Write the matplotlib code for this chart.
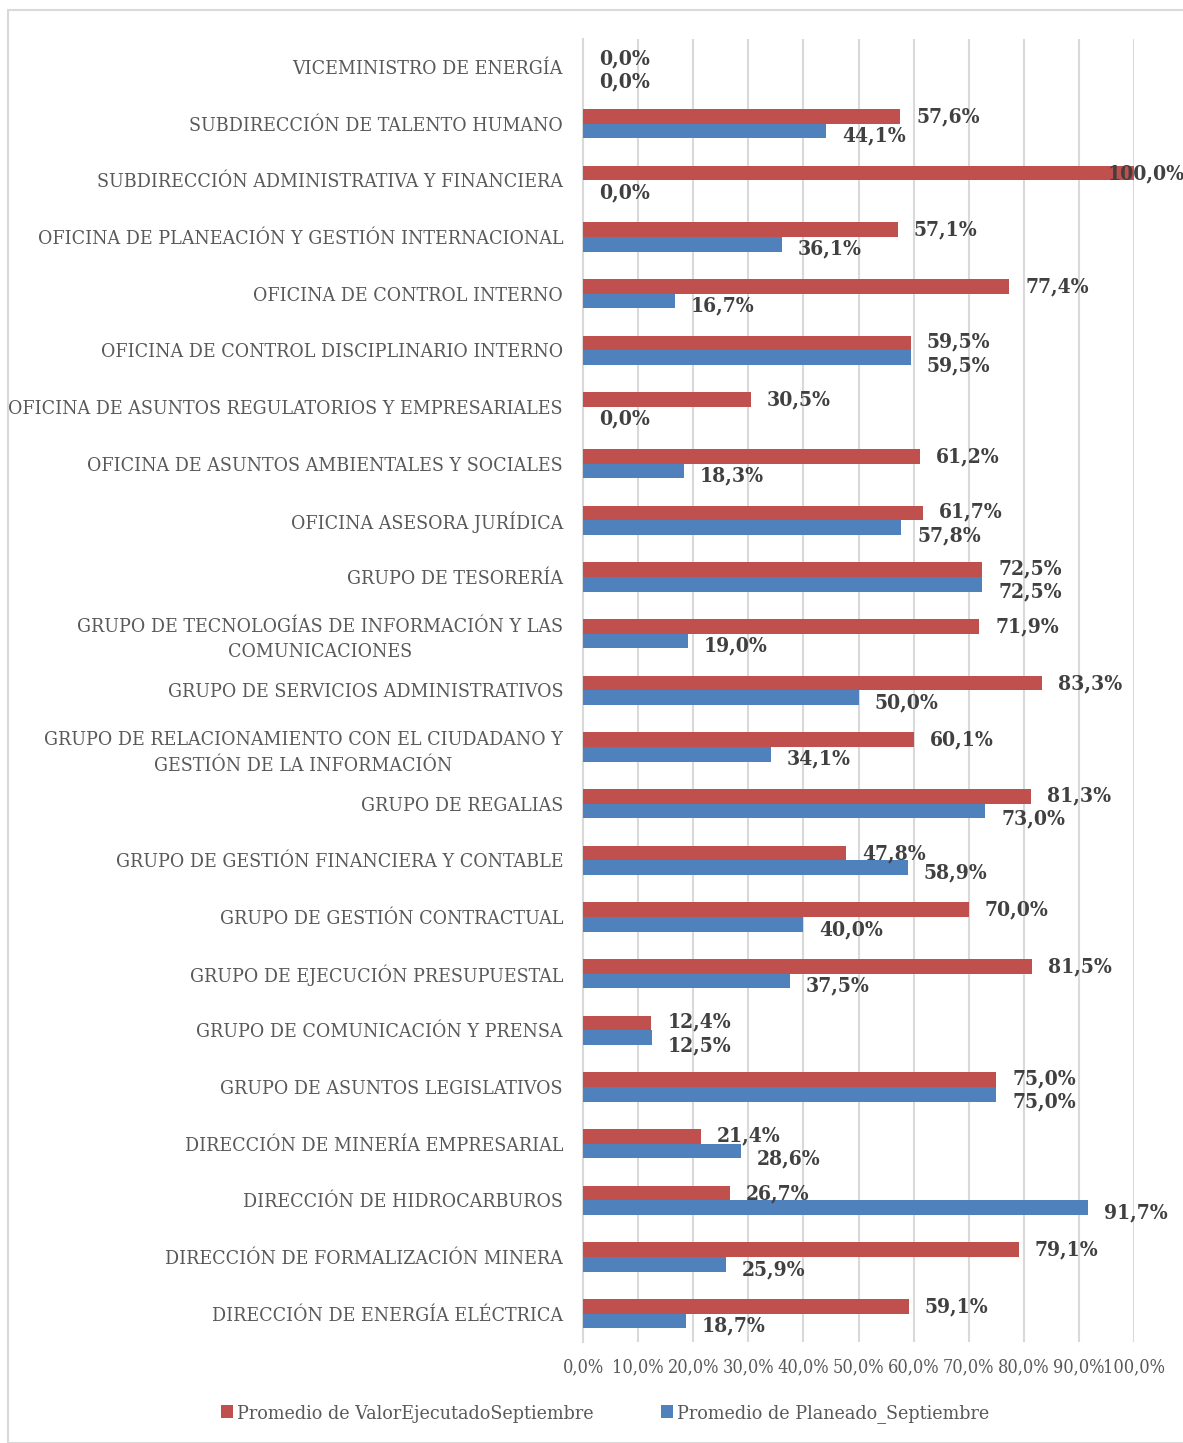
import matplotlib
matplotlib.use("Agg")
import matplotlib.pyplot as plt
from matplotlib.patches import Rectangle
import numpy as np

categories = [
    "VICEMINISTRO DE ENERGÍA",
    "SUBDIRECCIÓN DE TALENTO HUMANO",
    "SUBDIRECCIÓN ADMINISTRATIVA Y FINANCIERA",
    "OFICINA DE PLANEACIÓN Y GESTIÓN INTERNACIONAL",
    "OFICINA DE CONTROL INTERNO",
    "OFICINA DE CONTROL DISCIPLINARIO INTERNO",
    "OFICINA DE ASUNTOS REGULATORIOS Y EMPRESARIALES",
    "OFICINA DE ASUNTOS AMBIENTALES Y SOCIALES",
    "OFICINA ASESORA JURÍDICA",
    "GRUPO DE TESORERÍA",
    "GRUPO DE TECNOLOGÍAS DE INFORMACIÓN Y LAS\nCOMUNICACIONES",
    "GRUPO DE SERVICIOS ADMINISTRATIVOS",
    "GRUPO DE RELACIONAMIENTO CON EL CIUDADANO Y\nGESTIÓN DE LA INFORMACIÓN",
    "GRUPO DE REGALIAS",
    "GRUPO DE GESTIÓN FINANCIERA Y CONTABLE",
    "GRUPO DE GESTIÓN CONTRACTUAL",
    "GRUPO DE EJECUCIÓN PRESUPUESTAL",
    "GRUPO DE COMUNICACIÓN Y PRENSA",
    "GRUPO DE ASUNTOS LEGISLATIVOS",
    "DIRECCIÓN DE MINERÍA EMPRESARIAL",
    "DIRECCIÓN DE HIDROCARBUROS",
    "DIRECCIÓN DE FORMALIZACIÓN MINERA",
    "DIRECCIÓN DE ENERGÍA ELÉCTRICA",
]
ejecutado = [0.0, 57.6, 100.0, 57.1, 77.4, 59.5, 30.5, 61.2, 61.7, 72.5, 71.9, 83.3,
             60.1, 81.3, 47.8, 70.0, 81.5, 12.4, 75.0, 21.4, 26.7, 79.1, 59.1]
planeado = [0.0, 44.1, 0.0, 36.1, 16.7, 59.5, 0.0, 18.3, 57.8, 72.5, 19.0, 50.0,
            34.1, 73.0, 58.9, 40.0, 37.5, 12.5, 75.0, 28.6, 91.7, 25.9, 18.7]
series_names = ["Promedio de ValorEjecutadoSeptiembre", "Promedio de Planeado_Septiembre"]
xticks = [0, 10, 20, 30, 40, 50, 60, 70, 80, 90, 100]
xtick_labels = ["0,0%", "10,0%", "20,0%", "30,0%", "40,0%", "50,0%", "60,0%",
                "70,0%", "80,0%", "90,0%", "100,0%"]

RED = "#C0504D"
BLUE = "#4F81BD"
TXT = "#595959"
LBL = "#404040"
SERIF = ["DejaVu Serif"]

W, H = 1183, 1443
fig = plt.figure(figsize=(W / 100, H / 100), dpi=100)
fig.patches.append(Rectangle((8 / W, 0), 1.2, 1 - 10 / H, transform=fig.transFigure,
                             fill=False, edgecolor="#D9D9D9", lw=1.5))

ax = fig.add_axes([583 / W, 1 - 1342 / H, (1134 - 583) / W, (1342 - 38.6) / H])
n = len(categories)
y = np.arange(n)
bh = 0.26
ax.barh(y - bh / 2, ejecutado, height=bh, color=RED, label=series_names[0], zorder=3)
ax.barh(y + bh / 2, planeado, height=bh, color=BLUE, label=series_names[1], zorder=3)
ax.set_ylim(n - 0.5, -0.5)
ax.set_xlim(0, 100)

for i in range(n):
    e, p = ejecutado[i], planeado[i]
    close = abs(e - p) < 10
    ye = i - bh / 2 - (0.02 if close else 0.0)
    yp = i + bh / 2 + (0.13 if close else 0.08)
    for v, yy in ((e, ye), (p, yp)):
        xx = min(v + 2.9, 95.3)
        ax.text(xx, yy, f"{v:.1f}%".replace(".", ","), ha="left", va="center",
                fontsize=15, fontweight="bold", color=LBL, family=SERIF,
                fontstretch="condensed", zorder=5, clip_on=False)

ax.set_yticks(y)
ax.set_yticklabels(categories, fontsize=14, color=TXT, family=SERIF, fontstretch="condensed",
                   ha="right", multialignment="center")
for t in ax.get_yticklabels():
    t.set_linespacing(1.55)
ax.tick_params(axis="y", length=0, pad=14.4)
ax.set_xticks(xticks)
ax.set_xticklabels(xtick_labels, fontsize=13, color=TXT, family=SERIF, fontstretch="condensed")
ax.tick_params(axis="x", length=0, pad=12)
ax.grid(axis="x", color="#D9D9D9", lw=1.5, zorder=0)
for s in ["top", "right", "bottom"]:
    ax.spines[s].set_visible(False)
ax.spines["left"].set_color("#D9D9D9")
ax.spines["left"].set_linewidth(1.5)

leg = fig.legend(loc="center", bbox_to_anchor=(605 / W, 1 - 1414 / H), ncol=2, frameon=False,
                 prop={"family": SERIF, "size": 14, "stretch": "condensed"},
                 handlelength=0.6, handleheight=0.6, handletextpad=0.2, columnspacing=3.5)
for t in leg.get_texts():
    t.set_color(TXT)

fig.savefig("out.png", dpi=100)
